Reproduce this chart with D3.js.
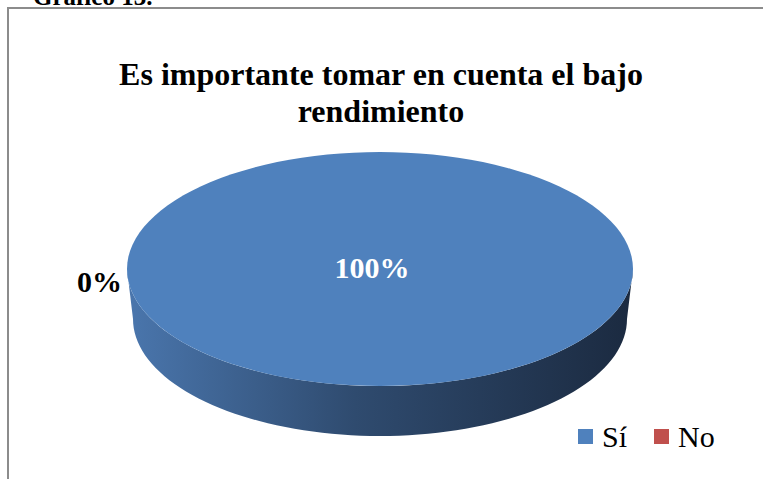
<html>
<head>
<meta charset="utf-8">
<title>Gráfico 13</title>
<style>
  body { margin: 0; background: #fff; }
  svg { display: block; }
</style>
</head>
<body>
<div id="chart"></div>
<script src="https://cdn.jsdelivr.net/npm/d3@7"></script>
<script>
(function(){
  "use strict";

  var categories = ["Sí", "No"];
  var values = [100, 0];
  var labels = ["100%", "0%"];
  var colors = ["#4f81bd", "#c0504d"];
  var titleLines = ["Es importante tomar en cuenta el bajo", "rendimiento"];

  var w = 763, h = 479;
  var cx = 380, cy = 269, rx = 253, ry = 117, depth = 50, rxb = 247;

  var svg = d3.select("#chart").append("svg")
    .attr("width", w)
    .attr("height", h);

  // caption cut off at the top
  svg.append("text")
    .attr("x", 33).attr("y", 5)
    .attr("font-family", "Liberation Serif, Times New Roman, serif")
    .attr("font-weight", "bold")
    .attr("font-size", 25)
    .text("Gráfico 13.");

  // frame
  svg.append("path")
    .attr("d", "M8,479 V8 H763")
    .attr("fill", "none")
    .attr("stroke", "#8c8c8c")
    .attr("stroke-width", 2);

  // title
  svg.append("text")
    .attr("text-anchor", "middle")
    .attr("font-family", "Liberation Serif, Times New Roman, serif")
    .attr("font-weight", "bold")
    .attr("font-size", 32)
    .selectAll("tspan")
    .data(titleLines)
    .enter().append("tspan")
      .attr("x", 381)
      .attr("y", function(d, i){ return 85 + i * 37; })
      .text(function(d){ return d; });

  var defs = svg.append("defs");
  var grad = defs.append("linearGradient")
    .attr("id", "side")
    .attr("gradientUnits", "userSpaceOnUse")
    .attr("x1", cx - rx).attr("x2", cx + rx)
    .attr("y1", 0).attr("y2", 0);
  grad.append("stop").attr("offset", "0%").attr("stop-color", "#4a76ad");
  grad.append("stop").attr("offset", "45%").attr("stop-color", "#2f4b6f");
  grad.append("stop").attr("offset", "100%").attr("stop-color", "#1b2a40");

  var pie = d3.pie().sort(null)
    .startAngle(-Math.PI / 2)
    .endAngle(3 * Math.PI / 2)
    .value(function(d){ return d; });
  var arcs = pie(values);

  // d3 angle (0 = top, clockwise) -> point on ellipse
  function pt(a, rX, rY, oy) {
    return [cx + rX * Math.sin(a), cy + oy - rY * Math.cos(a)];
  }

  // side wall (front half)
  var steps = 80, side = [];
  var i, a;
  for (i = 0; i <= steps; i++) {
    a = Math.PI / 2 + Math.PI * i / steps;
    side.push(pt(a, rx, ry, 0));
  }
  for (i = steps; i >= 0; i--) {
    a = Math.PI / 2 + Math.PI * i / steps;
    side.push(pt(a, rxb, ry, depth));
  }
  svg.append("path")
    .attr("d", d3.line()(side) + "Z")
    .attr("fill", "url(#side)");

  // top faces
  svg.selectAll("path.slice")
    .data(arcs.filter(function(d){ return d.value > 0; }))
    .enter().append("path")
      .attr("class", "slice")
      .attr("fill", function(d){ return colors[d.index]; })
      .attr("d", function(d){
        var pts = [], n = 120, k;
        for (k = 0; k <= n; k++) {
          pts.push(pt(d.startAngle + (d.endAngle - d.startAngle) * k / n, rx, ry, 0));
        }
        if (d.endAngle - d.startAngle < 2 * Math.PI - 1e-6) pts.push([cx, cy]);
        return d3.line()(pts) + "Z";
      });

  // data labels
  svg.selectAll("text.lbl")
    .data(arcs)
    .enter().append("text")
      .attr("class", "lbl")
      .attr("font-family", "Liberation Serif, Times New Roman, serif")
      .attr("font-weight", "bold")
      .attr("font-size", 30)
      .attr("text-anchor", function(d){ return d.value > 0 ? "middle" : "end"; })
      .attr("fill", function(d){ return d.value > 0 ? "#ffffff" : "#000000"; })
      .attr("x", function(d){ return d.value > 0 ? cx - 8 : pt(d.startAngle, rx, ry, 0)[0] - 5; })
      .attr("y", function(d){ return d.value > 0 ? cy + 9 : pt(d.startAngle, rx, ry, 0)[1] + 23; })
      .text(function(d){ return labels[d.index]; });

  // legend
  var legendX = [578, 654];
  var lg = svg.selectAll("g.legend")
    .data(categories)
    .enter().append("g")
      .attr("class", "legend")
      .attr("transform", function(d, i){ return "translate(" + legendX[i] + ",429)"; });
  lg.append("rect")
    .attr("width", 15).attr("height", 15)
    .attr("fill", function(d, i){ return colors[i]; });
  lg.append("text")
    .attr("x", 24).attr("y", 18)
    .attr("font-family", "Liberation Serif, Times New Roman, serif")
    .attr("font-size", 30)
    .text(function(d){ return d; });
})();
</script>
</body>
</html>
